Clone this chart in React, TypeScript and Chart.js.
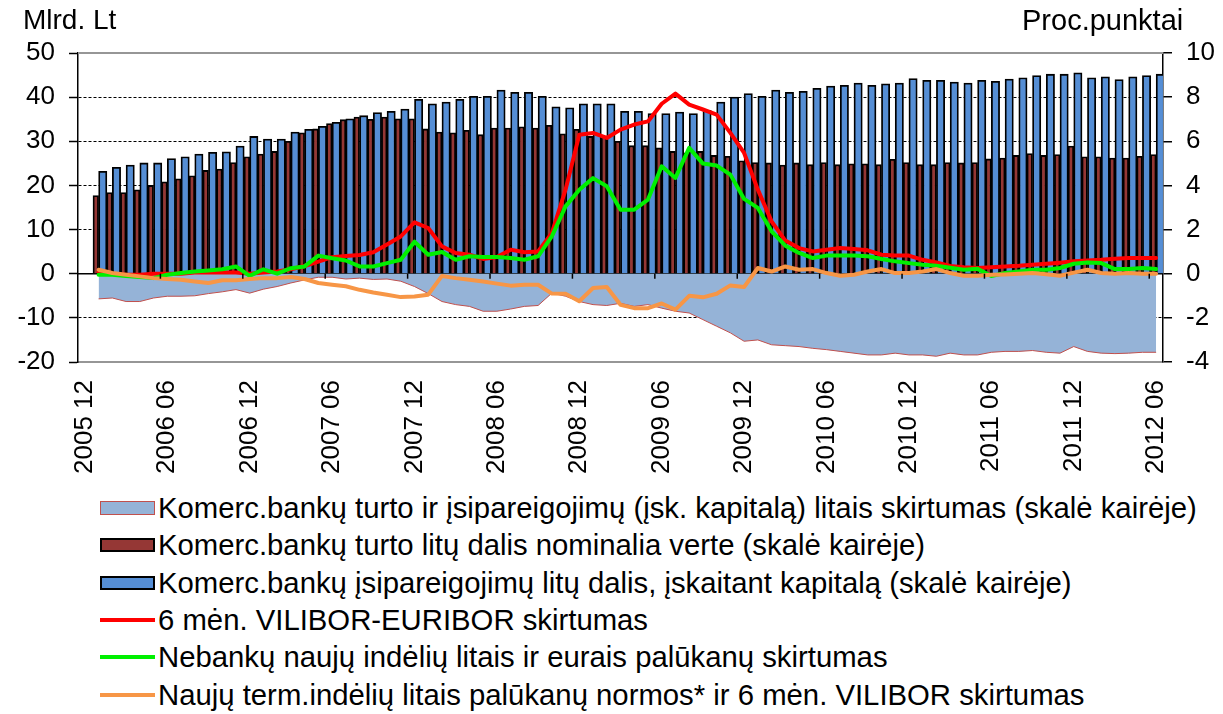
import React, { useEffect, useRef } from 'react';
import { Chart, registerables } from 'chart.js';

Chart.register(...registerables);

const FONT = "'Liberation Sans', Arial, sans-serif";

// Categories: 2005 12 ... 2012 06 (first month has no data)
const categories = [
  '2005 12',
  '2006 01', '2006 02', '2006 03', '2006 04', '2006 05', '2006 06', '2006 07', '2006 08', '2006 09', '2006 10', '2006 11', '2006 12',
  '2007 01', '2007 02', '2007 03', '2007 04', '2007 05', '2007 06', '2007 07', '2007 08', '2007 09', '2007 10', '2007 11', '2007 12',
  '2008 01', '2008 02', '2008 03', '2008 04', '2008 05', '2008 06', '2008 07', '2008 08', '2008 09', '2008 10', '2008 11', '2008 12',
  '2009 01', '2009 02', '2009 03', '2009 04', '2009 05', '2009 06', '2009 07', '2009 08', '2009 09', '2009 10', '2009 11', '2009 12',
  '2010 01', '2010 02', '2010 03', '2010 04', '2010 05', '2010 06', '2010 07', '2010 08', '2010 09', '2010 10', '2010 11', '2010 12',
  '2011 01', '2011 02', '2011 03', '2011 04', '2011 05', '2011 06', '2011 07', '2011 08', '2011 09', '2011 10', '2011 11', '2011 12',
  '2012 01', '2012 02', '2012 03', '2012 04', '2012 05', '2012 06',
];

// Left scale (Mlrd. Lt)
const assetsLitas = [
  null,
  17.7, 18.4, 18.4, 19.0, 20.0, 20.8, 21.5, 22.2, 23.4, 23.7,
  25.2, 26.5, 27.1, 27.7, 30.0, 31.9, 32.8, 34.0, 34.9, 35.5,
  35.0, 35.5, 35.1, 35.1, 32.8, 32.1, 31.9, 32.5, 31.5, 33.0,
  33.0, 33.3, 33.0, 33.6, 31.7, 32.7, 31.1, 31.1, 30.0, 29.0,
  29.0, 28.5, 27.7, 27.4, 27.7, 26.8, 26.6, 25.6, 25.2, 25.1,
  24.6, 25.1, 24.7, 25.2, 24.7, 24.9, 24.9, 24.7, 25.9, 25.2,
  24.7, 24.7, 25.2, 25.1, 25.2, 26.0, 26.2, 26.8, 27.2, 26.8,
  27.0, 28.9, 26.5, 26.5, 26.2, 26.2, 26.6, 27.0,
];

const liabilitiesLitas = [
  null,
  23.2, 24.1, 24.6, 25.1, 25.1, 26.1, 26.5, 27.1, 27.5, 27.6,
  28.9, 31.1, 30.5, 30.5, 32.1, 32.7, 33.4, 34.3, 35.1, 35.8,
  36.5, 36.8, 37.3, 39.5, 38.5, 38.9, 39.5, 40.2, 40.2, 41.6,
  41.1, 41.1, 40.2, 37.8, 37.6, 38.5, 38.5, 38.5, 36.8, 36.8,
  36.3, 36.3, 36.6, 36.3, 37.0, 38.9, 40.0, 40.8, 40.2, 41.6,
  41.1, 41.3, 42.0, 42.5, 42.7, 43.2, 42.7, 43.0, 43.2, 44.2,
  43.8, 43.8, 43.4, 43.2, 43.8, 43.6, 44.1, 44.4, 44.9, 45.2,
  45.2, 45.5, 44.4, 44.6, 44.0, 44.6, 44.9, 45.2,
];

const litasGap = [
  null,
  -5.7, -5.5, -6.3, -6.3, -5.5, -5.1, -5.1, -5.0, -4.5, -4.1,
  -3.6, -4.4, -3.5, -2.9, -2.1, -1.4, -0.8, -0.8, -1.2, -1.0,
  -1.3, -1.2, -1.7, -2.9, -4.5, -6.3, -7.0, -7.4, -8.5, -8.5,
  -8.0, -7.4, -7.2, -4.4, -5.1, -6.3, -7.0, -7.2, -6.7, -7.4,
  -7.0, -7.8, -8.5, -8.9, -10.4, -11.9, -13.4, -15.3, -15.0, -16.1,
  -16.3, -16.5, -16.9, -17.2, -17.6, -18.0, -18.4, -18.4, -18.0, -18.4,
  -18.4, -18.7, -18.0, -18.4, -18.4, -17.8, -17.6, -17.6, -17.4, -17.8,
  -18.0, -16.5, -17.6, -18.0, -18.1, -18.0, -17.8, -17.8,
];

// Right scale (Proc.punktai)
const viliborEuribor = [
  null,
  0.1, 0.0, -0.05, -0.05, 0.0, 0.0, 0.0, 0.05, 0.05, 0.05,
  0.05, 0.0, 0.05, 0.1, 0.2, 0.35, 0.55, 0.75, 0.8, 0.85,
  0.97, 1.32, 1.69, 2.33, 2.07, 1.24, 0.94, 0.86, 0.67, 0.76,
  1.09, 0.97, 1.01, 1.84, 3.81, 6.3, 6.38, 6.15, 6.53, 6.76,
  6.9, 7.7, 8.16, 7.66, 7.44, 7.21, 6.38, 5.47, 3.81, 2.37,
  1.5, 1.16, 1.01, 1.09, 1.16, 1.12, 1.06, 0.86, 0.82, 0.82,
  0.63, 0.51, 0.35, 0.29, 0.26, 0.29, 0.33, 0.36, 0.41, 0.45,
  0.5, 0.56, 0.6, 0.63, 0.68, 0.71, 0.71, 0.71,
];

const depositLtEurGap = [
  null,
  -0.05, -0.05, -0.1, -0.15, -0.2, -0.05, 0.03, 0.1, 0.15, 0.2,
  0.33, -0.1, 0.2, 0.0, 0.25, 0.33, 0.82, 0.7, 0.6, 0.33,
  0.33, 0.48, 0.63, 1.45, 0.86, 0.98, 0.63, 0.79, 0.76, 0.76,
  0.71, 0.63, 0.79, 1.69, 3.05, 3.8, 4.33, 3.96, 2.9, 2.9,
  3.36, 4.87, 4.34, 5.7, 4.99, 4.9, 4.49, 3.39, 2.98, 1.92,
  1.27, 0.94, 0.71, 0.82, 0.82, 0.82, 0.79, 0.67, 0.56, 0.48,
  0.41, 0.36, 0.27, 0.18, 0.22, -0.1, 0.03, 0.1, 0.18, 0.18,
  0.26, 0.45, 0.51, 0.48, 0.21, 0.21, 0.26, 0.21,
];

const termDepositViliborGap = [
  null,
  0.18, 0.03, -0.05, -0.12, -0.2, -0.24, -0.27, -0.35, -0.42, -0.3,
  -0.3, -0.24, -0.2, -0.2, -0.15, -0.24, -0.42, -0.5, -0.57, -0.73,
  -0.85, -0.95, -1.06, -1.03, -0.95, -0.1, -0.2, -0.27, -0.35, -0.45,
  -0.54, -0.5, -0.5, -0.9, -0.91, -1.25, -0.65, -0.6, -1.41, -1.56,
  -1.56, -1.35, -1.63, -1.0, -1.07, -0.91, -0.53, -0.6, 0.26, 0.1,
  0.33, 0.18, 0.21, 0.03, -0.09, -0.05, 0.1, 0.21, 0.03, 0.03,
  0.1, 0.21, 0.03, -0.09, -0.09, -0.05, -0.03, 0.0, 0.03, -0.02,
  -0.09, 0.05, 0.18, 0.03, 0.0, 0.03, 0.0, 0.0,
];

const seriesLabels = [
  'Komerc.bankų turto ir įsipareigojimų (įsk. kapitalą) litais skirtumas (skalė kairėje)',
  'Komerc.bankų turto litų dalis nominalia verte (skalė kairėje)',
  'Komerc.bankų įsipareigojimų litų dalis, įskaitant kapitalą (skalė kairėje)',
  '6 mėn. VILIBOR-EURIBOR skirtumas',
  'Nebankų naujų indėlių litais ir eurais palūkanų skirtumas',
  'Naujų term.indėlių litais palūkanų normos* ir 6 mėn. VILIBOR skirtumas',
];

const COLORS = {
  area: '#95B3D7',
  areaBorder: '#C0504D',
  brown: '#953735',
  blue: '#558ED5',
  red: '#FF0000',
  green: '#00F000',
  orange: '#F79646',
};

const framePlugin = {
  id: 'frame',
  afterDatasetsDraw(chart: any) {
    const { ctx, chartArea, scales } = chart;
    const x = scales.x;
    const y = scales.y;
    ctx.save();
    // top border of plot area
    ctx.strokeStyle = '#969696';
    ctx.lineWidth = 2;
    ctx.beginPath();
    ctx.moveTo(chartArea.left, chartArea.top);
    ctx.lineTo(chartArea.right, chartArea.top);
    ctx.stroke();
    // category tick marks on the zero line
    const zero = y.getPixelForValue(0);
    const half = (x.getPixelForValue(1) - x.getPixelForValue(0)) / 2;
    ctx.strokeStyle = '#000';
    ctx.lineWidth = 1.5;
    for (let i = 6; i < categories.length; i += 6) {
      const px = x.getPixelForValue(i) - half;
      ctx.beginPath();
      ctx.moveTo(px, zero);
      ctx.lineTo(px, zero + 5);
      ctx.stroke();
    }
    ctx.restore();
  },
};

function LegendMarker({ index }: { index: number }) {
  const common: React.CSSProperties = { position: 'absolute', left: 100, width: 55 };
  if (index === 0)
    return <div style={{ ...common, top: 11, height: 14, background: COLORS.area, border: `1px solid ${COLORS.areaBorder}`, boxSizing: 'border-box' }} />;
  if (index === 1)
    return <div style={{ ...common, top: 11, height: 14, background: COLORS.brown, border: '2px solid #000', boxSizing: 'border-box' }} />;
  if (index === 2)
    return <div style={{ ...common, top: 11, height: 14, background: COLORS.blue, border: '2px solid #000', boxSizing: 'border-box' }} />;
  const c = index === 3 ? COLORS.red : index === 4 ? COLORS.green : COLORS.orange;
  return <div style={{ ...common, top: 16, height: 4, background: c }} />;
}

export default function App() {
  const ref = useRef<HTMLCanvasElement | null>(null);

  useEffect(() => {
    if (!ref.current) return;
    const font = { family: FONT, size: 26 };
    const chart = new Chart(ref.current, {
      type: 'bar',
      data: {
        labels: categories,
        datasets: [
          {
            type: 'line', label: seriesLabels[5], data: termDepositViliborGap as any, yAxisID: 'y2',
            borderColor: COLORS.orange, borderWidth: 4, pointRadius: 0, tension: 0, fill: false, order: 0,
            borderJoinStyle: 'round', borderCapStyle: 'round',
          },
          {
            type: 'line', label: seriesLabels[4], data: depositLtEurGap as any, yAxisID: 'y2',
            borderColor: COLORS.green, borderWidth: 4, pointRadius: 0, tension: 0, fill: false, order: 1,
            borderJoinStyle: 'round', borderCapStyle: 'round',
          },
          {
            type: 'line', label: seriesLabels[3], data: viliborEuribor as any, yAxisID: 'y2',
            borderColor: COLORS.red, borderWidth: 4, pointRadius: 0, tension: 0, fill: false, order: 2,
            borderJoinStyle: 'round', borderCapStyle: 'round',
          },
          {
            type: 'line', label: seriesLabels[0], data: litasGap as any, yAxisID: 'y',
            borderColor: COLORS.areaBorder, backgroundColor: COLORS.area, borderWidth: 1,
            pointRadius: 0, tension: 0, fill: 'origin', order: 3,
          },
          {
            type: 'bar', label: seriesLabels[1], data: assetsLitas as any, yAxisID: 'y',
            backgroundColor: COLORS.brown, borderColor: '#000', borderWidth: 1.8, barThickness: 5.6, order: 4,
          },
          {
            type: 'bar', label: seriesLabels[2], data: liabilitiesLitas as any, yAxisID: 'y',
            backgroundColor: COLORS.blue, borderColor: '#000', borderWidth: 1.8, barThickness: 8.3, order: 4,
          },
        ] as any,
      },
      options: {
        responsive: false,
        animation: false,
        layout: { padding: { top: 53, left: 0, right: 0, bottom: 0 } },
        plugins: { legend: { display: false }, tooltip: { enabled: false } },
        scales: {
          x: {
            type: 'category',
            offset: true,
            grid: { display: false },
            border: { display: true, color: '#969696', width: 2 },
            ticks: {
              autoSkip: false, maxRotation: 90, minRotation: 90, padding: 10, color: '#000', font,
              callback: (_v: any, i: number) => (i % 6 === 0 ? categories[i] : ''),
            },
            afterFit: (s: any) => { s.height = 113; },
          },
          y: {
            position: 'left', min: -20, max: 50,
            ticks: { stepSize: 10, padding: 14, color: '#000', font },
            grid: {
              color: (c: any) => ([50, 0, -20].includes(c.tick.value) ? 'rgba(0,0,0,0)' : '#000'),
              lineWidth: 1, tickColor: '#000', tickLength: 9, tickWidth: 1.5,
            },
            border: { display: true, color: '#000', width: 1.5, dash: [3, 2] },
            afterFit: (s: any) => { s.width = 78; },
          },
          y2: {
            position: 'right', min: -4, max: 10,
            ticks: { stepSize: 2, padding: 14, color: '#000', font },
            grid: {
              color: (c: any) => (c.tick.value === 0 ? '#000' : 'rgba(0,0,0,0)'),
              lineWidth: 1.5, tickColor: '#000', tickLength: 9, tickWidth: 1.5,
            },
            border: { display: true, color: '#000', width: 1.5 },
            afterFit: (s: any) => { s.width = 60; },
          },
        } as any,
      },
      plugins: [framePlugin],
    });
    return () => chart.destroy();
  }, []);

  return (
    <div style={{ position: 'fixed', left: 0, top: 0, width: 1223, height: 714, background: '#fff', fontFamily: FONT, overflow: 'hidden' }}>
      <canvas ref={ref} width={1223} height={475} style={{ position: 'absolute', left: 0, top: 0, width: 1223, height: 475 }} />
      <div style={{ position: 'absolute', left: 23, top: 4, fontSize: 28, lineHeight: '32px', color: '#000' }}>Mlrd. Lt</div>
      <div style={{ position: 'absolute', left: 1022, top: 4, fontSize: 29, lineHeight: '32px', color: '#000' }}>Proc.punktai</div>
      {seriesLabels.map((label, i) => (
        <div key={i} style={{ position: 'absolute', left: 0, top: 490 + i * 37.3, height: 36, width: 1223 }}>
          <LegendMarker index={i} />
          <div style={{ position: 'absolute', left: 158, top: 0, fontSize: 29.3, lineHeight: '36px', color: '#000', whiteSpace: 'nowrap' }}>{label}</div>
        </div>
      ))}
    </div>
  );
}
